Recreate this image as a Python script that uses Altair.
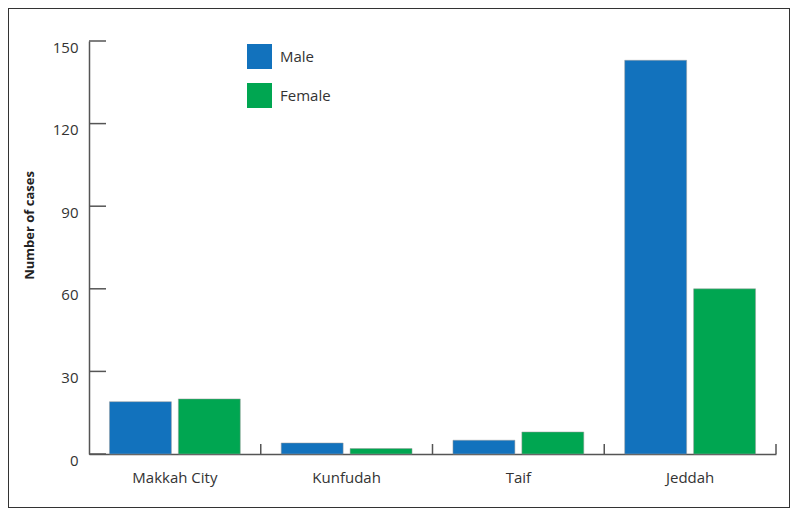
import altair as alt
import pandas as pd

regions = ["Makkah City", "Kunfudah", "Taif", "Jeddah"]
male = [19, 4, 5, 143]
female = [20, 2, 8, 60]
sexes = ["Male", "Female"]
colors = ["#1272BD", "#00A651"]
y_ticks = [0, 30, 60, 90, 120, 150]

rows = []
for r, m, f in zip(regions, male, female):
    rows.append({"region": r, "sex": "Male", "cases": m})
    rows.append({"region": r, "sex": "Female", "cases": f})
df = pd.DataFrame(rows)
tick_df = pd.DataFrame({"v": y_ticks})
reg_df = pd.DataFrame({"region": regions})

FONT = "Open Sans"
x_scale = alt.Scale(domain=regions, range=[81, 768], paddingInner=0, paddingOuter=0)
y_scale = alt.Scale(domain=[0, 150], range=[446, 33], nice=False)

bars = alt.Chart(df).mark_bar(stroke="#9a9a9a", strokeWidth=0.5).encode(
    x=alt.X("region:N", scale=x_scale, sort=regions,
            axis=alt.Axis(title=None, ticks=False, labelAngle=0, offset=-54,
                          domainColor="#555", domainWidth=1.5,
                          labelFont=FONT, labelFontSize=15, labelColor="#333",
                          labelPadding=16)),
    xOffset=alt.XOffset("sex:N", sort=sexes,
                        scale=alt.Scale(domain=sexes, paddingInner=0.1014, paddingOuter=0.297)),
    y=alt.Y("cases:Q", scale=y_scale,
            axis=alt.Axis(title="Number of cases", values=y_ticks, ticks=False, grid=False,
                          offset=-81, domainColor="#555", domainWidth=1.5,
                          labelFont=FONT, labelFontSize=15, labelColor="#333",
                          labelPadding=11, labelOffset=6,
                          titleFont=FONT, titleFontSize=13, titleFontWeight="bold",
                          titleColor="#222", titleX=-60, titleY=217,
                          titleAlign="center", titleBaseline="middle")),
    color=alt.Color("sex:N", sort=sexes, scale=alt.Scale(domain=sexes, range=colors),
                    legend=alt.Legend(title=None, orient="none", legendX=239, legendY=36,
                                      symbolType="square", symbolSize=625,
                                      symbolStrokeWidth=0, symbolOpacity=1,
                                      rowPadding=14, labelOffset=8, padding=0,
                                      labelFont=FONT, labelFontSize=15, labelColor="#333")),
)

yticks = alt.Chart(tick_df).mark_rule(color="#555", strokeWidth=1.5).encode(
    y=alt.Y("v:Q", scale=y_scale),
    x=alt.value(81), x2=alt.value(98),
)

xticks = alt.Chart(reg_df).mark_rule(color="#555", strokeWidth=1.5).encode(
    x=alt.X("region:N", scale=x_scale, sort=regions, bandPosition=1),
    y=alt.value(446), y2=alt.value(436),
)

chart = alt.layer(bars, yticks, xticks).properties(
    width=782, height=500, padding=0, autosize=alt.AutoSizeParams(type="none")
).configure_view(stroke="#333", strokeWidth=2)

chart.save("out.html", embed_options={"renderer": "svg", "actions": False})
